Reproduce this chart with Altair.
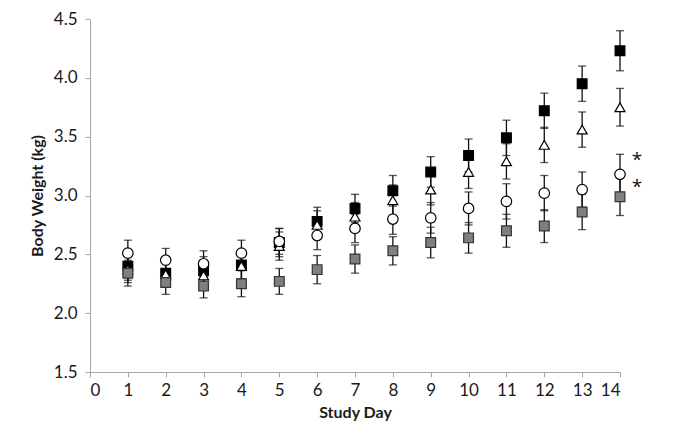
import altair as alt
import pandas as pd

days = list(range(1, 15))
black_mean = [2.40, 2.34, 2.36, 2.41, 2.60, 2.78, 2.89, 3.04, 3.20, 3.34, 3.49, 3.72, 3.95, 4.23]
black_err = [0.12, 0.12, 0.12, 0.12, 0.12, 0.12, 0.12, 0.13, 0.13, 0.14, 0.15, 0.15, 0.15, 0.17]
tri_mean = [2.37, 2.33, 2.32, 2.40, 2.57, 2.75, 2.82, 2.96, 3.05, 3.20, 3.29, 3.43, 3.56, 3.75]
tri_err = [0.11, 0.11, 0.11, 0.11, 0.12, 0.12, 0.12, 0.13, 0.13, 0.14, 0.15, 0.15, 0.15, 0.16]
circ_mean = [2.51, 2.45, 2.42, 2.51, 2.61, 2.66, 2.72, 2.80, 2.81, 2.89, 2.95, 3.02, 3.05, 3.18]
circ_err = [0.11, 0.10, 0.11, 0.11, 0.11, 0.12, 0.12, 0.13, 0.13, 0.14, 0.15, 0.15, 0.15, 0.17]
gray_mean = [2.34, 2.26, 2.23, 2.25, 2.27, 2.37, 2.46, 2.53, 2.60, 2.64, 2.70, 2.74, 2.86, 2.99]
gray_err = [0.11, 0.10, 0.10, 0.11, 0.11, 0.12, 0.12, 0.12, 0.13, 0.13, 0.14, 0.14, 0.15, 0.16]

star_x = [14.45, 14.45]
star_y = [3.30, 3.07]

series = [
    ("A", black_mean, black_err, "square", "black", "black"),
    ("B", tri_mean, tri_err, "triangle-up", "white", "black"),
    ("C", circ_mean, circ_err, "circle", "white", "black"),
    ("D", gray_mean, gray_err, "square", "#7f7f7f", "#333333"),
]

font = "Lato"
xs = alt.Scale(domain=[0, 14], nice=False)
ys = alt.Scale(domain=[1.5, 4.5], nice=False, zero=False)

xaxis = alt.Axis(values=list(range(0, 15)), title="Study Day", grid=False,
                 domainColor="#a6a6a6", tickColor="#a6a6a6", tickSize=5,
                 labelFont=font, labelFontSize=17, labelColor="#1a1a1a",
                 titleFont=font, titleFontSize=16, titleFontWeight="bold",
                 titleColor="#1a1a1a", labelPadding=5, titlePadding=6)
yaxis = alt.Axis(values=[1.5, 2.0, 2.5, 3.0, 3.5, 4.0, 4.5], format=".1f",
                 title="Body Weight (kg)", grid=False,
                 domainColor="#a6a6a6", tickColor="#a6a6a6", tickSize=5,
                 labelFont=font, labelFontSize=17, labelColor="#1a1a1a",
                 titleFont=font, titleFontSize=16, titleFontWeight="bold",
                 titleColor="#1a1a1a", labelPadding=8, titlePadding=8)


def X(field):
    return alt.X(field, scale=xs, axis=xaxis)


def Y(field):
    return alt.Y(field, scale=ys, axis=yaxis)


rules = []
points = []
for name, m, e, shape, fill, stroke in series:
    df = pd.DataFrame({"day": days, "mean": m,
                       "lo": [a - b for a, b in zip(m, e)],
                       "hi": [a + b for a, b in zip(m, e)]})
    base = alt.Chart(df)
    rule = base.mark_rule(color="#111111", strokeWidth=1.3).encode(
        x=X("day:Q"), y=Y("lo:Q"), y2="hi:Q")
    cap_lo = base.mark_tick(color="#111111", orient="horizontal", size=8, thickness=1.3).encode(
        x=X("day:Q"), y=Y("lo:Q"))
    cap_hi = base.mark_tick(color="#111111", orient="horizontal", size=8, thickness=1.3).encode(
        x=X("day:Q"), y=Y("hi:Q"))
    rules += [rule, cap_lo, cap_hi]
    sz = 95 if shape == "square" else (110 if shape == "circle" else 100)
    pt = base.mark_point(shape=shape, filled=True, fill=fill, stroke=stroke,
                         strokeWidth=1.2, size=sz, opacity=1).encode(
        x=X("day:Q"), y=Y("mean:Q"))
    points.append(pt)

stars = alt.Chart(pd.DataFrame({"x": star_x, "y": star_y, "t": ["*", "*"]})).mark_text(
    font="Open Sans", fontSize=19, color="#111111", align="center", baseline="middle"
).encode(x=X("x:Q"), y=Y("y:Q"), text="t:N")

chart = alt.layer(*rules, *points, stars).properties(
    width=530, height=353,
    autosize=alt.AutoSizeParams(type="none"),
    padding={"left": 82, "top": 11, "right": 47, "bottom": 55},
    background="white",
).configure_view(stroke=None)

chart.save("out.html", embed_options={"renderer": "svg", "actions": False})
